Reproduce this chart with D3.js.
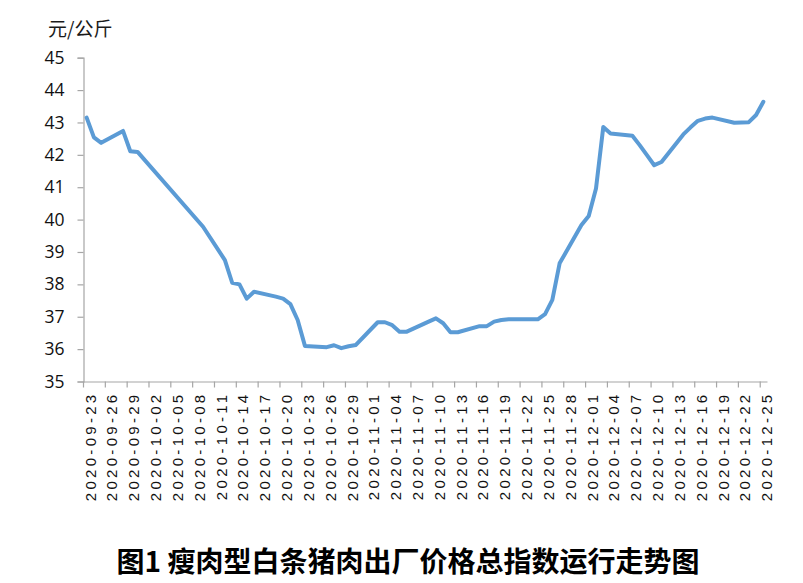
<!DOCTYPE html>
<html>
<head>
<meta charset="utf-8">
<script src="https://cdn.jsdelivr.net/npm/d3@7"></script>
<style>
  html, body { margin: 0; padding: 0; background: #fff; }
  svg { display: block; }
</style>
</head>
<body>
<svg id="chart" width="803" height="583"></svg>
<script>
// ---- data ----
const dates = [
  "2020-09-23","2020-09-24","2020-09-25","2020-09-28","2020-09-29","2020-09-30",
  "2020-10-09","2020-10-12","2020-10-13","2020-10-14","2020-10-15","2020-10-16",
  "2020-10-19","2020-10-20","2020-10-21","2020-10-22","2020-10-23",
  "2020-10-26","2020-10-27","2020-10-28","2020-10-29","2020-10-30",
  "2020-11-02","2020-11-03","2020-11-04","2020-11-05","2020-11-06",
  "2020-11-09","2020-11-10","2020-11-11","2020-11-12","2020-11-13",
  "2020-11-16","2020-11-17","2020-11-18","2020-11-19","2020-11-20",
  "2020-11-23","2020-11-24","2020-11-25","2020-11-26","2020-11-27",
  "2020-11-30","2020-12-01","2020-12-02","2020-12-03","2020-12-04",
  "2020-12-07","2020-12-08","2020-12-09","2020-12-10","2020-12-11",
  "2020-12-14","2020-12-15","2020-12-16","2020-12-17","2020-12-18",
  "2020-12-21","2020-12-22","2020-12-23","2020-12-24","2020-12-25"
];
const values = [
  43.15, 42.54, 42.37, 42.74, 42.11, 42.09,
  39.78, 38.75, 38.05, 38.00, 37.56, 37.77,
  37.62, 37.56, 37.39, 36.90, 36.10,
  36.06, 36.12, 36.03, 36.09, 36.13,
  36.83, 36.83, 36.74, 36.54, 36.54,
  36.85, 36.95, 36.80, 36.52, 36.52,
  36.71, 36.71, 36.85, 36.90, 36.92,
  36.92, 36.92, 37.08, 37.52, 38.65,
  39.83, 40.11, 40.96, 42.86, 42.66,
  42.59, 42.30, 41.99, 41.68, 41.78,
  42.63, 42.85, 43.05, 43.12, 43.15,
  42.99, 43.00, 43.01, 43.23, 43.64
];
const tickLabels = [
  "2020-09-23","2020-09-26","2020-09-29","2020-10-02","2020-10-05","2020-10-08",
  "2020-10-11","2020-10-14","2020-10-17","2020-10-20","2020-10-23","2020-10-26",
  "2020-10-29","2020-11-01","2020-11-04","2020-11-07","2020-11-10","2020-11-13",
  "2020-11-16","2020-11-19","2020-11-22","2020-11-25","2020-11-28","2020-12-01",
  "2020-12-04","2020-12-07","2020-12-10","2020-12-13","2020-12-16","2020-12-19",
  "2020-12-22","2020-12-25"
];
const yTicks = [35, 36, 37, 38, 39, 40, 41, 42, 43, 44, 45];
const yUnit = "元/公斤";
const title = "图1 瘦肉型白条猪肉出厂价格总指数运行走势图";

// ---- drawing ----
const parse = d3.utcParse("%Y-%m-%d");
const HALF_DAY = 12 * 3600 * 1000;
const svg = d3.select("#chart");
const axisColor = "#a6a6a6";

const x = d3.scaleUtc()
  .domain([new Date(parse("2020-09-23").getTime() - HALF_DAY),
           new Date(parse("2020-12-25").getTime() + HALF_DAY)])
  .range([83, 767]);
const y = d3.scaleLinear().domain([35, 45]).range([381.5, 57.7]);

const pts = dates.map((d, i) => ({ date: parse(d), value: values[i] }));

// y axis
const yAxis = svg.append("g")
  .attr("transform", "translate(83.5,0)")
  .call(d3.axisLeft(y).tickValues(yTicks).tickSize(6).tickPadding(13).tickFormat(d3.format("d")));
yAxis.select(".domain").attr("stroke", axisColor).attr("stroke-width", 1.2);
yAxis.selectAll(".tick line").attr("stroke", axisColor).attr("stroke-width", 1.2);
yAxis.selectAll(".tick text")
  .attr("fill", "#111")
  .style("font-family", "'Open Sans', 'Noto Sans', sans-serif")
  .style("font-size", "17.5px");

// x axis: tick marks at day boundaries every 3 days
const tickDates = tickLabels.map(t => new Date(parse(t).getTime() - HALF_DAY));
const xTickAxis = svg.append("g")
  .attr("transform", "translate(0,381.5)")
  .call(d3.axisBottom(x).tickValues(tickDates).tickSize(6).tickSizeOuter(0).tickFormat(""));
xTickAxis.select(".domain").attr("stroke", axisColor).attr("stroke-width", 1.2);
xTickAxis.selectAll(".tick line").attr("stroke", axisColor).attr("stroke-width", 1.2);

// x labels, rotated
const labelDates = tickLabels.map(t => parse(t));
const xLabelAxis = svg.append("g")
  .attr("transform", "translate(3,381.5)")
  .call(d3.axisBottom(x).tickValues(labelDates).tickSize(0).tickFormat(d3.utcFormat("%Y-%m-%d")));
xLabelAxis.select(".domain").remove();
xLabelAxis.selectAll(".tick text")
  .attr("fill", "#111")
  .attr("text-anchor", "end")
  .attr("transform", "rotate(-90)")
  .attr("x", -10)
  .attr("y", 0)
  .attr("dy", "0.36em")
  .style("font-family", "'Liberation Sans', Arial, sans-serif")
  .style("font-size", "15px")
  .style("letter-spacing", "3.3px");

// line
const line = d3.line()
  .x(d => x(d.date))
  .y(d => y(d.value));
svg.append("path")
  .datum(pts)
  .attr("fill", "none")
  .attr("stroke", "#5b9bd5")
  .attr("stroke-width", 4)
  .attr("stroke-linejoin", "round")
  .attr("stroke-linecap", "round")
  .attr("d", line);

// unit label
svg.append("text")
  .attr("x", 48).attr("y", 36)
  .attr("fill", "#1a1a1a")
  .style("font-family", "'Noto Sans CJK SC', sans-serif")
  .style("font-size", "19px")
  .text(yUnit);

// title
svg.append("text")
  .attr("x", 408).attr("y", 572)
  .attr("text-anchor", "middle")
  .attr("fill", "#000")
  .style("font-family", "'Noto Sans CJK SC', sans-serif")
  .style("font-weight", "bold")
  .style("font-size", "28px")
  .text(title);
</script>
</body>
</html>
